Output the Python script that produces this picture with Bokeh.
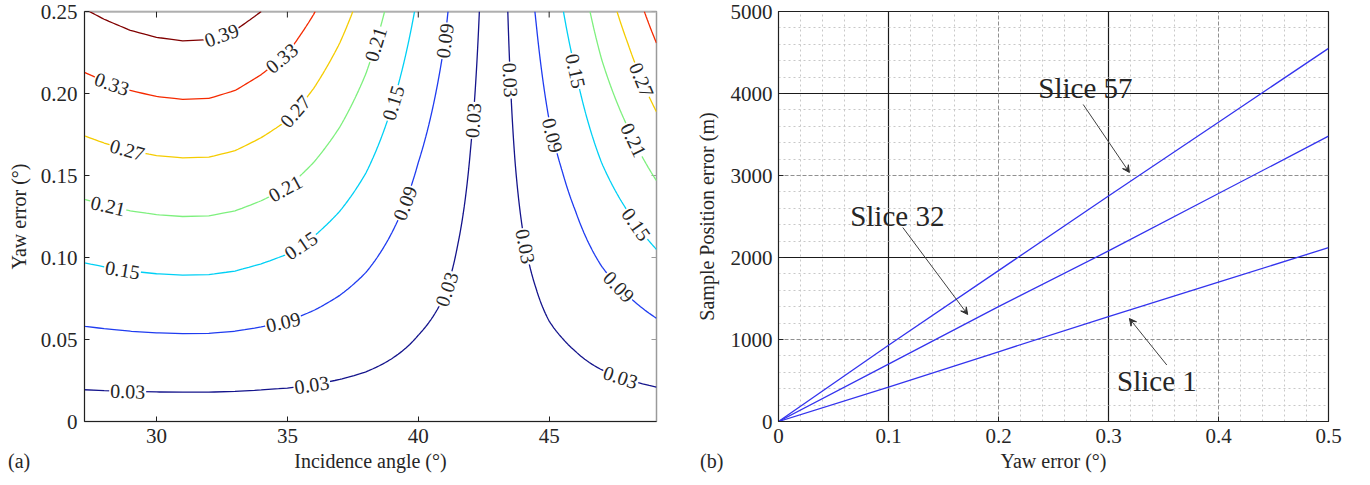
import numpy as np
from bokeh.plotting import figure
from bokeh.layouts import row, column
from bokeh.models import (FixedTicker, Range1d, Label, Arrow, VeeHead,
                          Grid, ColumnDataSource, Div)
from bokeh.core.properties import value
from bokeh.embed import file_html
from bokeh.resources import INLINE

FONT = "Liberation Serif"
TXT = "#262626"

# ---------------- panel (a) data ----------------
incidence_angle = [27.25, 28, 29, 30, 31, 32, 33, 34, 35, 36, 37, 38, 39, 40, 40.5, 41,
                   41.5, 42, 42.5, 42.9, 43.3, 43.7, 44, 44.5, 45, 45.5, 46, 47, 48, 49.1]
# error gain (sample position error per degree of yaw)
yaw_gain = [1.55, 1.59, 1.635, 1.665, 1.68, 1.675, 1.635, 1.56, 1.47, 1.33, 1.17, 0.99,
            0.78, 0.57, 0.48, 0.39, 0.28, 0.18, 0.09, 0.0, 0.09, 0.19, 0.26, 0.37, 0.49,
            0.59, 0.70, 0.95, 1.17, 1.43]
contour_levels = [0.03, 0.09, 0.15, 0.21, 0.27, 0.33, 0.39]
level_colors = ["#14148c", "#1f3cf0", "#00d0f5", "#7ef07e", "#f5cc00", "#f52a00", "#800000"]

a_xticks = [30, 35, 40, 45]
a_yticks = [0, 0.05, 0.10, 0.15, 0.20, 0.25]
a_ytick_labels = ["0", "0.05", "0.10", "0.15", "0.20", "0.25"]

# contour labels: level and approximate location (angle, yaw)
clabel_level = [0.39, 0.33, 0.33, 0.27, 0.27, 0.21, 0.21, 0.21, 0.15, 0.15, 0.15,
                0.09, 0.09, 0.09, 0.03, 0.03, 0.03, 0.03, 0.03, 0.03,
                0.09, 0.15, 0.27, 0.21, 0.15, 0.09, 0.03]
clabel_angle = [32.52, 28.28, 34.81, 28.89, 35.38, 38.55, 34.92, 28.13, 39.3, 35.57, 28.7,
                41.18, 39.69, 34.85, 42.21, 41.03, 28.9, 35.95, 43.4, 43.89,
                45.04, 45.76, 48.32, 48.01, 48.13, 47.52, 47.67]
clabel_yaw = [0.234, 0.205, 0.221, 0.166, 0.188, 0.229, 0.142, 0.130, 0.193, 0.106, 0.092,
              0.232, 0.132, 0.060, 0.1835, 0.081, 0.0177, 0.0207, 0.2085, 0.106,
              0.174, 0.213, 0.207, 0.170, 0.118, 0.080, 0.0244]

# ---------------- panel (b) data ----------------
yaw_error = [0, 0.1, 0.2, 0.3, 0.4, 0.5]
slice_1 = [0, 420, 850, 1280, 1700, 2120]
slice_32 = [0, 700, 1400, 2080, 2780, 3480]
slice_57 = [0, 930, 1840, 2750, 3650, 4550]
b_xticks = [0, 0.1, 0.2, 0.3, 0.4, 0.5]
b_xtick_labels = ["0", "0.1", "0.2", "0.3", "0.4", "0.5"]
b_yticks = [0, 1000, 2000, 3000, 4000, 5000]
b_dark_x = [0.1, 0.3]
b_dark_y = [2000, 4000]
b_light_x = [0.2, 0.4]
b_light_y = [1000, 3000]

slice_names = ["Slice 57", "Slice 32", "Slice 1"]
slice_text_x = [0.279, 0.108, 0.344]
slice_text_y = [4061, 2512, 500]
arrow_x0 = [0.277, 0.113, 0.353]
arrow_y0 = [3866, 2366, 689]
arrow_x1 = [0.319, 0.172, 0.319]
arrow_y1 = [3037, 1305, 1256]

panel_tags = ["(a)", "(b)"]

# ---------------- layout constants ----------------
A_FW, A_FH = 572, 410
B_FW, B_FH = 550, 410
A_X = (27.25, 49.1)
A_Y = (0, 0.25)
TICK_FS = "21px"
TITLE_FS = "20px"


def style_axis(ax):
    ax.major_label_text_font = FONT
    ax.major_label_text_font_size = TICK_FS
    ax.major_label_text_color = TXT
    ax.axis_label_text_font = FONT
    ax.axis_label_text_font_size = TITLE_FS
    ax.axis_label_text_font_style = "normal"
    ax.axis_label_text_color = TXT
    ax.axis_line_color = "#202020"
    ax.major_tick_line_color = "#202020"
    ax.major_tick_in = 5
    ax.major_tick_out = 0
    ax.minor_tick_line_color = None


# ================= panel (a) =================
pa = figure(frame_width=A_FW, frame_height=A_FH, x_range=Range1d(*A_X), y_range=Range1d(*A_Y),
            output_backend="svg", toolbar_location=None,
            min_border_left=84, min_border_right=34, min_border_top=11, min_border_bottom=56)
pa.grid.visible = False
pa.outline_line_color = "#9a9a9a"
pa.outline_line_width = 1.5
pa.background_fill_color = "white"

pa.xaxis.ticker = FixedTicker(ticks=a_xticks)
pa.yaxis.ticker = FixedTicker(ticks=a_yticks)
pa.yaxis.major_label_overrides = {t: l for t, l in zip(a_yticks, a_ytick_labels)}
pa.xaxis.axis_label = "Incidence angle (°)"
pa.yaxis.axis_label = "Yaw error (°)"
for ax in pa.xaxis + pa.yaxis:
    style_axis(ax)
pa.xaxis.major_label_standoff = 7
pa.xaxis.axis_label_standoff = 4
pa.yaxis.major_label_standoff = 7
pa.yaxis.axis_label_standoff = 8

sx = A_FW / (A_X[1] - A_X[0])
sy = A_FH / (A_Y[1] - A_Y[0])

# box: thick light top edge and mirrored inward ticks on top and right
pa.segment(x0=[A_X[0]], y0=[A_Y[1]], x1=[A_X[1]], y1=[A_Y[1]], line_color="#c4c4c4", line_width=3)
pa.segment(x0=a_xticks, y0=[A_Y[1]] * len(a_xticks), x1=a_xticks,
           y1=[A_Y[1] - 6 / sy] * len(a_xticks), line_color="#202020", line_width=1)
pa.segment(x0=[A_X[1]] * len(a_yticks), y0=a_yticks, x1=[A_X[1] - 5 / sx] * len(a_yticks),
           y1=a_yticks, line_color="#9a9a9a", line_width=1)

ang = np.array(incidence_angle, dtype=float)
gain = np.array(yaw_gain, dtype=float)
yaw_axis = np.linspace(A_Y[0], A_Y[1], 251)
field = np.outer(yaw_axis, gain)
pa.contour(ang, yaw_axis, field, levels=contour_levels, line_color=level_colors,
           line_width=1.3)

# contour labels placed on the contour nearest to their reading, rotated along it
dense_ang = np.linspace(A_X[0], A_X[1], 6000)
dense_gain = np.interp(dense_ang, ang, gain)
lx, ly, lt, la = [], [], [], []
for c, a0, y0 in zip(clabel_level, clabel_angle, clabel_yaw):
    yc = np.where(dense_gain > 1e-9, c / np.maximum(dense_gain, 1e-9), np.inf)
    d = ((dense_ang - a0) * sx) ** 2 + ((yc - y0) * sy) ** 2
    k = int(np.nanargmin(d))
    k0, k1 = max(k - 15, 0), min(k + 15, len(dense_ang) - 1)
    if not np.isfinite(yc[k0]):
        k0 = k
    if not np.isfinite(yc[k1]):
        k1 = k
    dpx = (dense_ang[k1] - dense_ang[k0]) * sx
    dpy = (yc[k1] - yc[k0]) * sy
    t = np.arctan2(dpy, dpx)
    if t > np.pi / 2:
        t -= np.pi
    elif t <= -np.pi / 2:
        t += np.pi
    lx.append(dense_ang[k])
    ly.append(yc[k])
    lt.append(f"{c:.2f}")
    la.append(t)

lab_src = ColumnDataSource(dict(x=lx, y=ly, text=lt, angle=la))
pa.text("x", "y", text="text", angle="angle", source=lab_src, text_align="center",
        text_baseline="middle", text_font=value(FONT), text_font_size="20px",
        text_color=TXT, background_fill_color="white", padding=1)

# ================= panel (b) =================
pb = figure(frame_width=B_FW, frame_height=B_FH, x_range=Range1d(0, 0.5), y_range=Range1d(0, 5000),
            output_backend="svg", toolbar_location=None,
            min_border_left=88, min_border_right=34, min_border_top=11, min_border_bottom=56)
pb.outline_line_color = "#202020"
pb.outline_line_width = 1.2
pb.xaxis.ticker = FixedTicker(ticks=b_xticks)
pb.yaxis.ticker = FixedTicker(ticks=b_yticks)
pb.xaxis.major_label_overrides = {t: l for t, l in zip(b_xticks, b_xtick_labels)}
pb.xaxis.axis_label = "Yaw error (°)"
pb.yaxis.axis_label = "Sample Position error (m)"
for ax in pb.xaxis + pb.yaxis:
    style_axis(ax)
pb.xaxis.major_label_standoff = 7
pb.xaxis.axis_label_standoff = 4
pb.yaxis.major_label_standoff = 6
pb.yaxis.axis_label_standoff = 10

pb.xgrid.ticker = FixedTicker(ticks=b_dark_x)
pb.ygrid.ticker = FixedTicker(ticks=b_dark_y)
pb.grid.grid_line_color = "#1a1a1a"
pb.grid.grid_line_width = 1.2

minor_x = [v for v in np.round(np.arange(0.02, 0.5, 0.02), 3) if min(abs(v - t) for t in b_xticks) > 1e-6]
minor_y = [v for v in np.arange(200, 5000, 200) if v % 1000 != 0]
pb.add_layout(Grid(dimension=0, ticker=FixedTicker(ticks=minor_x), grid_line_color="#c8c8c8",
                   grid_line_dash="2 3", grid_line_width=1))
pb.add_layout(Grid(dimension=1, ticker=FixedTicker(ticks=minor_y), grid_line_color="#c8c8c8",
                   grid_line_dash="2 3", grid_line_width=1))
pb.add_layout(Grid(dimension=0, ticker=FixedTicker(ticks=b_light_x), grid_line_color="#909090",
                   grid_line_dash="4 2", grid_line_width=1))
pb.add_layout(Grid(dimension=1, ticker=FixedTicker(ticks=b_light_y), grid_line_color="#909090",
                   grid_line_dash="4 2", grid_line_width=1))

for ys in (slice_1, slice_32, slice_57):
    pb.line(yaw_error, ys, line_color="#3434ee", line_width=1.3)

for nm, tx, ty in zip(slice_names, slice_text_x, slice_text_y):
    pb.add_layout(Label(x=tx, y=ty, text=nm, text_font=FONT, text_font_size="29px",
                        text_color=TXT, text_align="center", text_baseline="middle"))
for x0, y0, x1, y1 in zip(arrow_x0, arrow_y0, arrow_x1, arrow_y1):
    pb.add_layout(Arrow(x_start=x0, y_start=y0, x_end=x1, y_end=y1, line_color="#404040",
                        line_width=1,
                        end=VeeHead(size=7, fill_color="#303030", line_color="#303030")))

# panel tags "(a)" / "(b)" on the axis-title line, as text blocks overlapping the bottom border
tag_style = {"font-family": FONT, "font-size": "20px", "color": TXT, "line-height": "24px"}
tag_a = Div(text=panel_tags[0], width=30, height=24, margin=(-28, 0, 0, 8), styles=tag_style)
tag_b = Div(text=panel_tags[1], width=30, height=24, margin=(-28, 0, 0, 662), styles=tag_style)

layout = column(row(pa, pb), row(tag_a, tag_b))
open("out.html", "w").write(file_html(layout, INLINE))
